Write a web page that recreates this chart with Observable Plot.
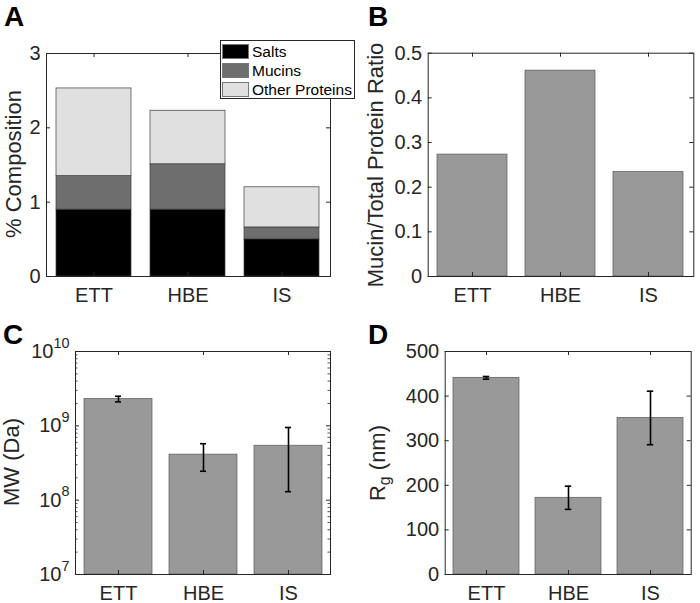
<!DOCTYPE html>
<html><head><meta charset="utf-8">
<script src="https://cdn.jsdelivr.net/npm/d3@7"></script>
<script src="https://cdn.jsdelivr.net/npm/@observablehq/plot@0.6"></script>
<style>
body{margin:0;background:#fff;}
#fig{position:relative;width:700px;height:603px;font-family:"Liberation Sans",Arial,sans-serif;color:#262626;overflow:hidden;background:#fff;}
.panel{position:absolute;}
.letter{position:absolute;font-weight:bold;font-size:28px;line-height:1;color:#000;}
.ylab{position:absolute;font-size:22px;white-space:nowrap;transform:translate(-50%,-50%) rotate(-90deg);line-height:1;color:#262626;}
.legend{position:absolute;left:220px;top:40px;width:133px;height:57px;border:1px solid #262626;background:#fff;z-index:5;}
.leg-row{position:absolute;left:1px;height:15px;display:flex;align-items:center;font-size:15.5px;color:#000;}
.sw{width:27px;height:15px;box-sizing:border-box;border:1px solid #777;margin-right:3px;}
</style></head><body><div id="fig"></div>
<script>
// ---- data ----
const categories = ["ETT", "HBE", "IS"];
const components = ["Salts", "Mucins", "Other Proteins"];
const compColors = ["#000000", "#6e6e6e", "#e0e0e0"];
const salts = [0.90, 0.90, 0.50];
const mucins = [0.45, 0.61, 0.16];
const otherProteins = [1.18, 0.72, 0.54];
const ratio = [0.273, 0.461, 0.234];
const mw = [2.3e9, 4.1e8, 5.4e8];
const mwErr = [2.0e8, 1.65e8, 4.1e8];
const rg = [441, 172, 351];
const rgErr = [3, 26, 60];
const ticksA = [0, 1, 2, 3];
const ticksB = [0, 0.1, 0.2, 0.3, 0.4, 0.5];
const ticksC = [1e7, 1e8, 1e9, 1e10];
const ticksD = [0, 100, 200, 300, 400, 500];

const fig = document.getElementById("fig");
const INK = "#262626";
const BARGRAY = "#999999";
const xScale = {type: "band", domain: categories, paddingInner: 0.2, paddingOuter: 0.1};

function innerTicks(yTicks, fw, fh, len) {
  return [
    Plot.ruleY(yTicks, {y: d => d, insetRight: fw - len, stroke: INK}),
    Plot.ruleY(yTicks, {y: d => d, insetLeft: fw - len, stroke: INK}),
    Plot.ruleX(categories, {x: d => d, insetBottom: fh - 4, stroke: INK}),
    Plot.ruleX(categories, {x: d => d, insetTop: fh - 4, stroke: INK})
  ];
}

function makePanel({left, top, width, height, mL, mR, mT, mB, y, yTicks, tickFormat, marks, minor}) {
  const fw = width - mL - mR, fh = height - mT - mB;
  const extra = minor ? [
    Plot.ruleY(minor, {y: d => d, insetRight: fw - 2.5, stroke: INK, strokeWidth: 0.8}),
    Plot.ruleY(minor, {y: d => d, insetLeft: fw - 2.5, stroke: INK, strokeWidth: 0.8})
  ] : [];
  const svg = Plot.plot({
    width, height,
    marginLeft: mL, marginRight: mR, marginTop: mT, marginBottom: mB,
    x: xScale, y,
    style: {fontFamily: "Liberation Sans, Arial, sans-serif", fontSize: "20px", color: INK, background: "transparent", overflow: "visible"},
    marks: [
      ...marks(fw, fh),
      ...innerTicks(yTicks, fw, fh, 4),
      ...extra,
      Plot.frame({stroke: INK, strokeWidth: 1}),
      Plot.axisX({tickSize: 0, tickPadding: 11, label: null, fontSize: 20}),
      Plot.axisY({ticks: yTicks, tickSize: 0, tickPadding: 6, label: null, fontSize: 20, tickFormat})
    ]
  });
  svg.classList.add("panel");
  svg.style.left = left + "px";
  svg.style.top = top + "px";
  fig.appendChild(svg);
  return svg;
}

// Panel A: stacked composition
const stackData = components.flatMap((comp, j) =>
  categories.map((cat, i) => ({cat, comp, value: [salts, mucins, otherProteins][j][i]})));
makePanel({
  left: 0, top: 0, width: 350, height: 303, mL: 46, mR: 20, mT: 53, mB: 27,
  y: {domain: [0, 3]}, yTicks: ticksA, tickFormat: d => String(d),
  marks: () => [
    Plot.barY(stackData, {x: "cat", y: "value", fill: d => compColors[components.indexOf(d.comp)], z: "comp", stroke: "#3c3c3c", strokeWidth: 0.7})
  ]
});

// Panel B: ratio
const ratioData = categories.map((cat, i) => ({cat, value: ratio[i]}));
makePanel({
  left: 350, top: 0, width: 350, height: 303, mL: 77.7, mR: 6.7, mT: 52.7, mB: 27,
  y: {domain: [0, 0.5]}, yTicks: ticksB, tickFormat: d => d === 0 ? "0" : d3.format(".1f")(d),
  marks: () => [
    Plot.barY(ratioData, {x: "cat", y: "value", fill: BARGRAY, stroke: "#5a5a5a", strokeWidth: 0.7})
  ]
});

// Panel C: MW (log)
const mwData = categories.map((cat, i) => ({cat, value: mw[i], lo: mw[i] - mwErr[i], hi: mw[i] + mwErr[i]}));
const minorC = [7, 8, 9].flatMap(k => [2, 3, 4, 5, 6, 7, 8, 9].map(m => m * Math.pow(10, k)));
const svgC = makePanel({
  left: 0, top: 300, width: 350, height: 303, mL: 75, mR: 20, mT: 51, mB: 29,
  y: {type: "log", domain: [1e7, 1e10]}, yTicks: ticksC, minor: minorC,
  tickFormat: d => "10^" + Math.round(Math.log10(d)),
  marks: (fw) => {
    const bw = fw / 3 * 0.8, inset = (bw - 6) / 2;
    return [
      Plot.barY(mwData, {x: "cat", y1: ticksC[0], y2: "value", fill: BARGRAY, stroke: "#5a5a5a", strokeWidth: 0.7}),
      Plot.ruleX(mwData, {x: "cat", y1: "lo", y2: "hi", stroke: "#000", strokeWidth: 1.6}),
      Plot.tickY(mwData, {x: "cat", y: "lo", insetLeft: inset, insetRight: inset, stroke: "#000", strokeWidth: 1.6}),
      Plot.tickY(mwData, {x: "cat", y: "hi", insetLeft: inset, insetRight: inset, stroke: "#000", strokeWidth: 1.6})
    ];
  }
});
svgC.querySelectorAll("text").forEach(t => {
  const m = /^10\^(\d+)$/.exec(t.textContent);
  if (m) {
    t.textContent = "10";
    const ts = document.createElementNS("http://www.w3.org/2000/svg", "tspan");
    ts.setAttribute("dy", "-0.7em");
    ts.setAttribute("font-size", "0.72em");
    ts.textContent = m[1];
    t.appendChild(ts);
  }
});

// Panel D: Rg
const rgData = categories.map((cat, i) => ({cat, value: rg[i], lo: rg[i] - rgErr[i], hi: rg[i] + rgErr[i]}));
makePanel({
  left: 350, top: 300, width: 350, height: 303, mL: 94.7, mR: 9.3, mT: 51, mB: 29,
  y: {domain: [0, 500]}, yTicks: ticksD, tickFormat: d => String(d),
  marks: (fw) => {
    const bw = fw / 3 * 0.8, inset = (bw - 6) / 2;
    return [
      Plot.barY(rgData, {x: "cat", y: "value", fill: BARGRAY, stroke: "#5a5a5a", strokeWidth: 0.7}),
      Plot.ruleX(rgData, {x: "cat", y1: "lo", y2: "hi", stroke: "#000", strokeWidth: 1.6}),
      Plot.tickY(rgData, {x: "cat", y: "lo", insetLeft: inset, insetRight: inset, stroke: "#000", strokeWidth: 1.6}),
      Plot.tickY(rgData, {x: "cat", y: "hi", insetLeft: inset, insetRight: inset, stroke: "#000", strokeWidth: 1.6})
    ];
  }
});

// Letters, labels, legend
function addDiv(cls, html, styles) {
  const d = document.createElement("div");
  d.className = cls;
  d.innerHTML = html;
  Object.assign(d.style, styles);
  fig.appendChild(d);
  return d;
}
addDiv("letter", "A", {left: "4px", top: "3px"});
addDiv("letter", "B", {left: "368px", top: "3px"});
addDiv("letter", "C", {left: "3px", top: "321px"});
addDiv("letter", "D", {left: "368px", top: "321px"});
addDiv("ylab", "% Composition", {left: "14px", top: "164px"});
addDiv("ylab", "Mucin/Total Protein Ratio", {left: "376px", top: "165px"});
addDiv("ylab", "MW (Da)", {left: "12px", top: "462px"});
addDiv("ylab", 'R<sub style="font-size:0.72em;vertical-align:-0.3em;line-height:0">g</sub> (nm)', {left: "378px", top: "463px"});

const legend = addDiv("legend", "", {});
components.forEach((c, i) => {
  const row = document.createElement("div");
  row.className = "leg-row";
  row.style.top = (3 + i * 19) + "px";
  row.innerHTML = `<div class="sw" style="background:${compColors[i]}"></div><span>${c}</span>`;
  legend.appendChild(row);
});
</script></body></html>
